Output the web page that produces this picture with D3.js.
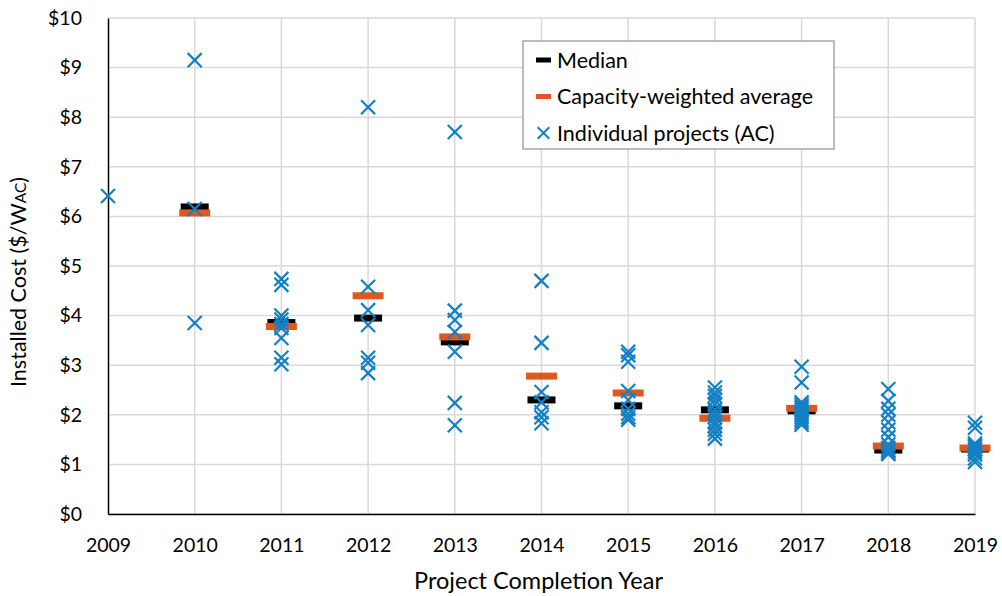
<!DOCTYPE html>
<html>
<head>
<meta charset="utf-8">
<script src="https://cdn.jsdelivr.net/npm/d3@7"></script>
<style>
  body { margin: 0; background: #fff; }
  text { font-family: Lato, "Open Sans", sans-serif; fill: #000; }
</style>
</head>
<body>
<svg id="chart" width="1002" height="596"></svg>
<script>
// values ($/W-AC)
const years = [2009, 2010, 2011, 2012, 2013, 2014, 2015, 2016, 2017, 2018, 2019];
const yTicks = [0, 1, 2, 3, 4, 5, 6, 7, 8, 9, 10];

const medianYears = [2010, 2011, 2012, 2013, 2014, 2015, 2016, 2017, 2018, 2019];
const medianValues = [6.19, 3.86, 3.95, 3.47, 2.30, 2.18, 2.10, 2.08, 1.29, 1.31];
const averageValues = [6.07, 3.78, 4.40, 3.57, 2.78, 2.44, 1.93, 2.13, 1.37, 1.33];

const projects = {
    2009: [6.41],
    2010: [9.15, 6.15, 3.85],
    2011: [4.74, 4.62, 4.00, 3.92, 3.83, 3.75, 3.55, 3.15, 3.02],
    2012: [8.20, 4.58, 4.11, 3.81, 3.15, 3.05, 2.84],
    2013: [7.70, 4.10, 3.91, 3.67, 3.27, 2.24, 1.79],
    2014: [4.70, 3.45, 2.46, 2.25, 2.05, 1.95, 1.83],
    2015: [3.27, 3.20, 3.07, 2.48, 2.30, 2.12, 2.02, 1.95, 1.90],
    2016: [2.55, 2.45, 2.38, 2.30, 2.22, 2.10, 2.02, 1.95, 1.85, 1.78, 1.70, 1.62, 1.52],
    2017: [2.97, 2.65, 2.25, 2.20, 2.15, 2.10, 2.05, 2.00, 1.95, 1.90, 1.85, 1.80],
    2018: [2.52, 2.28, 2.12, 2.00, 1.85, 1.70, 1.55, 1.40, 1.33, 1.29, 1.26, 1.23, 1.21],
    2019: [1.84, 1.74, 1.42, 1.38, 1.35, 1.30, 1.25, 1.20, 1.12, 1.05]
};

const legendLabels = ["Median", "Capacity-weighted average", "Individual projects (AC)"];

const margin = { top: 18, left: 108, right: 27, bottom: 82 };
const width = 1002 - margin.left - margin.right;
const height = 596 - margin.top - margin.bottom;

const blue = "#1380c6", orange = "#dc5a20";

let svg = d3.select("#chart");
let chart = svg.append("g").attr("transform", `translate(${margin.left},${margin.top})`);

let x = d3.scaleLinear().domain([2009, 2019]).range([0, width]);
let y = d3.scaleLinear().domain([0, 10]).range([height, 0]);

// gridlines
chart.append("g")
    .selectAll("line.h")
    .data(yTicks)
    .enter().append("line")
    .attr("x1", 0).attr("x2", width)
    .attr("y1", d => y(d)).attr("y2", d => y(d))
    .attr("stroke", "#d9d9d9").attr("stroke-width", 1.5);
chart.append("g")
    .selectAll("line.v")
    .data(years.slice(1))
    .enter().append("line")
    .attr("x1", d => x(d)).attr("x2", d => x(d))
    .attr("y1", 0).attr("y2", height)
    .attr("stroke", "#d9d9d9").attr("stroke-width", 1.5);

// axes
let yAxis = d3.axisLeft(y).tickValues(yTicks).tickSize(0).tickPadding(26).tickFormat(d => `$${d}`);
let xAxis = d3.axisBottom(x).tickValues(years).tickSize(0).tickPadding(24).tickFormat(d3.format("d"));

let gy = chart.append("g").call(yAxis);
gy.select(".domain").attr("stroke", "#000").attr("stroke-width", 1.5);
gy.selectAll("text").attr("font-size", 19.5).attr("font-family", "Lato, sans-serif");

let gx = chart.append("g").attr("transform", `translate(0,${height})`).call(xAxis);
gx.select(".domain").attr("stroke", "#000").attr("stroke-width", 1.5);
gx.selectAll("text").attr("font-size", 19.5).attr("font-family", "Lato, sans-serif");

// axis titles
let yTitle = chart.append("text")
    .attr("transform", `translate(${26 - margin.left},${height / 2 + 16}) rotate(-90)`)
    .attr("text-anchor", "middle")
    .attr("font-size", 21.5);
yTitle.append("tspan").text("Installed Cost ($/W");
yTitle.append("tspan").attr("font-size", 15.5).text("AC");
yTitle.append("tspan").text(")");

chart.append("text")
    .attr("x", width / 2 - 3)
    .attr("y", height + 75)
    .attr("text-anchor", "middle")
    .attr("font-size", 23.5)
    .text("Project Completion Year");

// median and weighted-average bars
const barH = 7;
chart.selectAll(".median")
    .data(medianYears)
    .enter().append("rect")
    .attr("class", "median")
    .attr("x", d => x(d) - 14)
    .attr("y", (d, i) => y(medianValues[i]) - barH / 2)
    .attr("width", 28).attr("height", barH)
    .attr("fill", "#000");

chart.selectAll(".average")
    .data(medianYears)
    .enter().append("rect")
    .attr("class", "average")
    .attr("x", d => x(d) - 15.5)
    .attr("y", (d, i) => y(averageValues[i]) - barH / 2)
    .attr("width", 31).attr("height", barH)
    .attr("fill", orange);

// individual projects
let pts = [];
Object.entries(projects).forEach(([yr, vals]) => vals.forEach(v => pts.push({ year: +yr, value: v })));

let cross = d3.symbol().type(d3.symbolX).size(130);
chart.selectAll(".proj")
    .data(pts)
    .enter().append("path")
    .attr("class", "proj")
    .attr("d", cross)
    .attr("transform", d => `translate(${x(d.year)},${y(d.value)})`)
    .attr("fill", "none")
    .attr("stroke", blue)
    .attr("stroke-width", 2.2);

// legend
let legend = svg.append("g").attr("transform", "translate(523,41)");
legend.append("rect")
    .attr("width", 311).attr("height", 108)
    .attr("fill", "#fff").attr("stroke", "#a6a6a6").attr("stroke-width", 1.5);

legendLabels.forEach((label, i) => {
    let cy = 19 + i * 36.5;
    let row = legend.append("g").attr("transform", `translate(0,${cy})`);
    if (i === 0 || i === 1) {
        row.append("rect").attr("x", 13).attr("y", -2.5).attr("width", 15).attr("height", 5)
            .attr("fill", i === 0 ? "#000" : orange);
    } else {
        row.append("path").attr("d", d3.symbol().type(d3.symbolX).size(90))
            .attr("transform", "translate(20.5,0)")
            .attr("fill", "none").attr("stroke", blue).attr("stroke-width", 2);
    }
    row.append("text").attr("x", 34).attr("dy", "0.35em").attr("font-size", 21.5).text(label);
});
</script>
</body>
</html>
